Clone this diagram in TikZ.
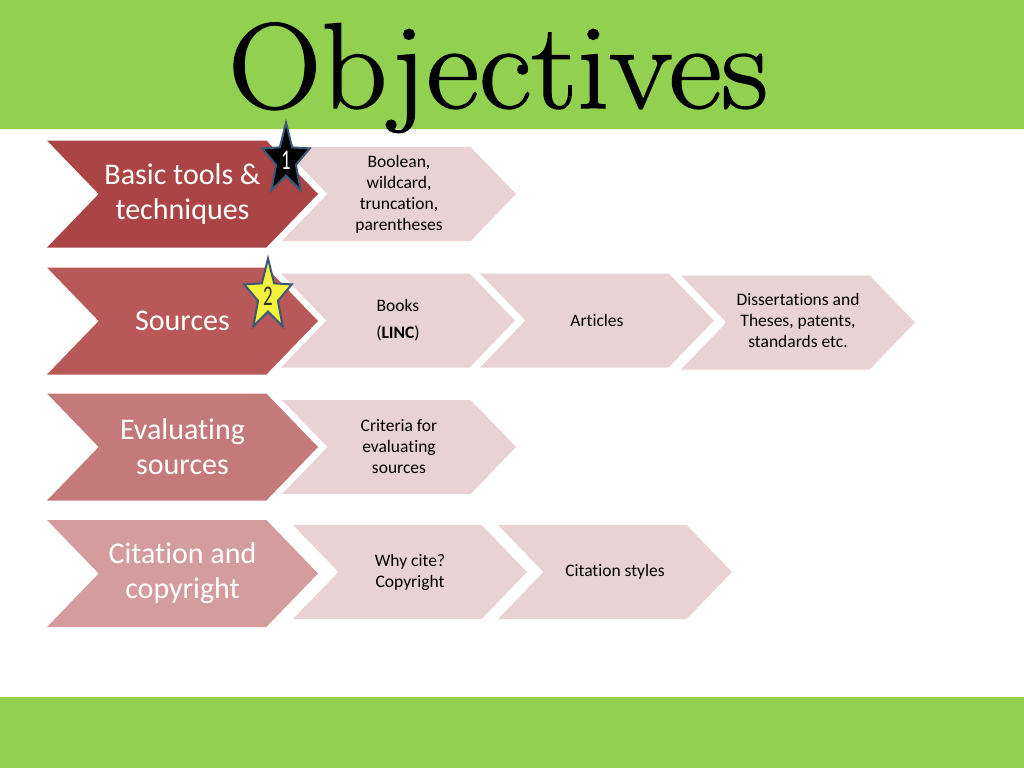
\documentclass[tikz,border=0pt]{standalone}
\usepackage{fontspec}
\usepackage{graphicx}
\newfontfamily\calibri{Carlito}[Ligatures=NoCommon]
\newfontfamily\titlefont{Latin Modern Roman}[FakeBold=1.2]
\usetikzlibrary{shapes.symbols,shapes.geometric}
\definecolor{bandgreen}{HTML}{92D050}
\definecolor{redA}{HTML}{AB4444}
\definecolor{redB}{HTML}{B95858}
\definecolor{redC}{HTML}{C47A7A}
\definecolor{redD}{HTML}{D49C9C}
\definecolor{pinklight}{HTML}{E8D2D3}
\definecolor{starline}{HTML}{3C5878}
\definecolor{staryellow}{HTML}{F2F23C}

\begin{document}
\begin{tikzpicture}[x=1pt,y=-1pt,
    topic/.style={signal, signal to=east, signal from=west, signal pointer angle=92,
        minimum width=271pt, minimum height=107pt, inner sep=0pt, text=white, align=center,
        font=\calibri\fontsize{30}{35}\selectfont},
    detail/.style={signal, signal to=east, signal from=west, signal pointer angle=92,
        fill=pinklight, minimum width=234pt, minimum height=94pt, inner sep=0pt, align=center,
        font=\calibri\fontsize{17.5}{21}\selectfont},
    badge/.style={star, star points=5, star point ratio=2.4, draw=starline, line width=2pt,
        minimum size=50pt, inner sep=0pt, transform shape, font=\calibri\fontsize{19}{19}\selectfont}]
    \useasboundingbox (0,0) rectangle (1024,768);
    \fill[bandgreen] (0,0) rectangle (1024,129);
    \fill[bandgreen] (0,697) rectangle (1024,768);
    \node[anchor=base, font=\titlefont\fontsize{122}{122}\selectfont] (title) at (498,108) {\scalebox{1.06}[1]{Objectives}};

    \node[detail] (boolean) at (399,194) {Boolean,\\wildcard,\\truncation,\\parentheses};
    \node[detail] (books) at (398,320.5) {Books\\[6pt](\textbf{LINC})};
    \node[detail] (articles) at (597,320.5) {Articles};
    \node[detail] (theses) at (798,322.5) {\raisebox{15pt}{\begin{tabular}{@{}c@{}}Dissertations and\\Theses, patents,\\standards etc.\end{tabular}}};
    \node[detail] (criteria) at (399,447) {Criteria for\\evaluating\\sources};
    \node[detail] (whycite) at (410,572) {Why cite?\\Copyright};
    \node[detail] (styles) at (615,572) {Citation styles};

    \node[topic, fill=redA] (basic) at (182.5,194) {Basic tools \&\\techniques};
    \node[topic, fill=redB] (sources) at (182.5,321) {Sources};
    \node[topic, fill=redC] (evaluating) at (182.5,447) {Evaluating\\sources};
    \node[topic, fill=redD] (citation) at (182.5,573.5) {Citation and\\copyright};

    \begin{scope}[shift={(286,160)}, yscale=1.5]
        \node[badge, fill=black, text=white] (star1) at (0,0) {1};
    \end{scope}
    \begin{scope}[shift={(268,296)}, yscale=1.5]
        \node[badge, fill=staryellow, text=black!80] (star2) at (0,0) {2};
    \end{scope}
\end{tikzpicture}
\end{document}
